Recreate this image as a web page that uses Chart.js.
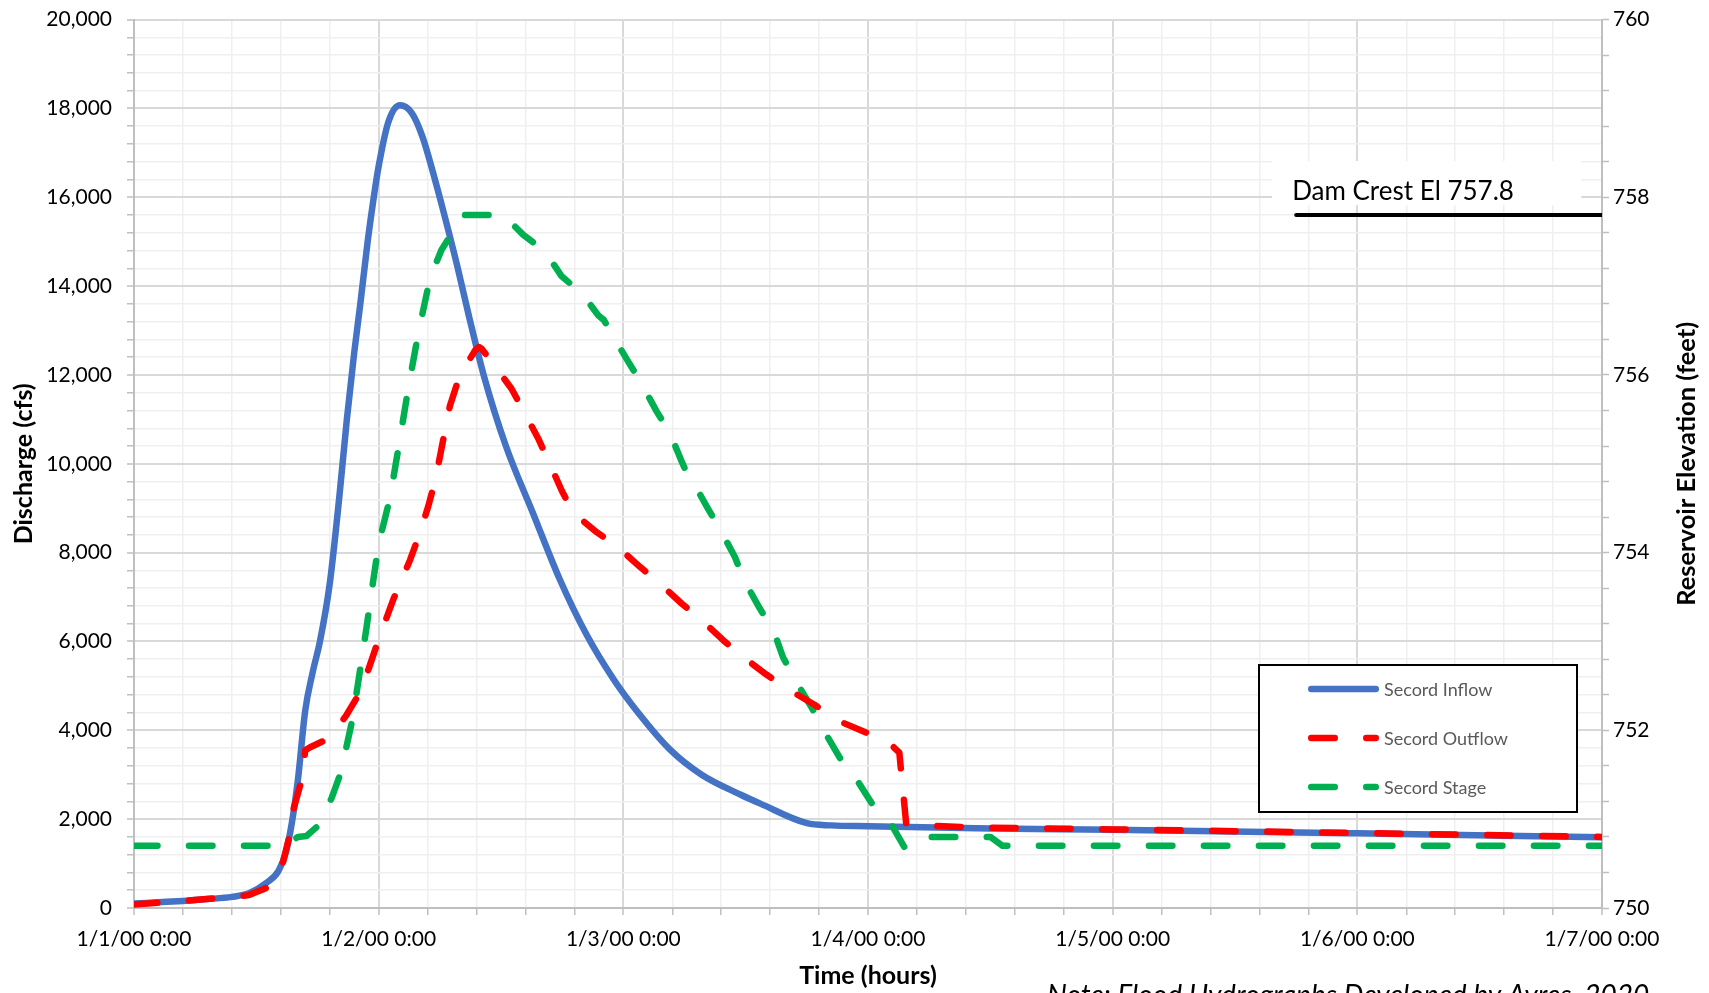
<!DOCTYPE html>
<html lang="en">
<head>
  <meta charset="UTF-8">
  <title>Secord Dam - Flood Routing</title>
  <style>
    html, body { margin: 0; padding: 0; background: #ffffff; overflow: hidden; }
    #chart { display: block; }
  </style>
</head>
<body>
  <canvas id="chart" width="1709" height="993"></canvas>

  <script src="https://cdn.jsdelivr.net/npm/chart.js"></script>
  <script>
    // time in days from 1/1/00 0:00
    const dayLabels = ['1/1/00 0:00', '1/2/00 0:00', '1/3/00 0:00', '1/4/00 0:00', '1/5/00 0:00', '1/6/00 0:00', '1/7/00 0:00'];

    const inflowDays = [0, 0.1, 0.2, 0.3, 0.4, 0.47, 0.54, 0.59, 0.62, 0.645, 0.67, 0.70, 0.73, 0.76, 0.80,
      0.84, 0.87, 0.90, 0.925, 0.955, 0.98, 1.00, 1.04, 1.087, 1.135, 1.18, 1.22, 1.26, 1.32, 1.37,
      1.43, 1.52, 1.63, 1.74, 1.85, 1.96, 2.06, 2.19, 2.32, 2.48, 2.56, 2.75, 2.85, 3.0, 3.5, 4.0, 5.0, 6.0];
    const inflowCfs = [100, 130, 160, 200, 250, 330, 560, 830, 1240, 1910, 2890, 4450, 5300, 6000, 7300,
      9300, 11000, 12500, 13600, 15000, 16000, 16700, 17700, 18070, 17900, 17350, 16600, 15780, 14480, 13300,
      11980, 10400, 8900, 7400, 6150, 5150, 4400, 3570, 3000, 2550, 2350, 1910, 1860, 1840, 1790, 1760, 1680, 1590];

    const outflowDays = [0, 0.2, 0.4, 0.47, 0.54, 0.58, 0.61, 0.635, 0.653, 0.686, 0.70, 0.72, 0.79, 0.83, 0.869,
      0.918, 0.96, 1.0, 1.06, 1.128, 1.169, 1.203, 1.23, 1.25, 1.271, 1.291, 1.332, 1.394, 1.41, 1.421,
      1.468, 1.543, 1.591, 1.652, 1.693, 1.748, 1.795, 1.891, 1.979, 2.068, 2.15, 2.238, 2.32, 2.408, 2.49,
      2.586, 2.681, 2.783, 2.872, 3.0, 3.1, 3.128, 3.156, 3.22, 3.45, 4.0, 5.0, 6.0];
    const outflowCfs = [80, 160, 250, 290, 450, 700, 1050, 1610, 2250, 2890, 3550, 3620, 3800, 4050, 4350,
      4800, 5400, 6050, 6950, 7830, 8450, 9050, 9600, 10150, 10750, 11300, 12000, 12550, 12630, 12590,
      12250, 11690, 11200, 10570, 10080, 9400, 8900, 8460, 8120, 7680, 7300, 6855, 6480, 6030, 5650,
      5250, 4900, 4570, 4230, 3930, 3645, 3500, 1905, 1860, 1810, 1770, 1690, 1600];

    const stageDays = [0, 0.62, 0.67, 0.705, 0.754, 0.808, 0.845, 0.872, 0.894, 0.918, 0.95, 0.978, 1.0, 1.046, 1.084,
      1.121, 1.162, 1.21, 1.257, 1.312, 1.345, 1.51, 1.59, 1.68, 1.748, 1.83, 1.898, 1.92, 1.959, 2.02,
      2.075, 2.136, 2.19, 2.238, 2.252, 2.286, 2.347, 2.402, 2.456, 2.497, 2.558, 2.613, 2.653, 2.708, 2.769,
      2.817, 2.885, 2.915, 2.946, 3.015, 3.089, 3.15, 3.21, 3.5, 3.55, 6.0];
    const stageFt = [750.70, 750.70, 750.80, 750.81, 750.93, 751.24, 751.52, 751.86, 752.14, 752.57, 753.15, 753.69, 754.10, 754.61, 755.23,
      755.85, 756.47, 757.09, 757.41, 757.65, 757.80, 757.80, 757.58, 757.39, 757.11, 756.92, 756.67, 756.62, 756.43, 756.15,
      755.90, 755.59, 755.35, 755.03, 754.94, 754.79, 754.49, 754.23, 753.95, 753.67, 753.37, 753.13, 752.82, 752.54, 752.26,
      752.01, 751.69, 751.59, 751.48, 751.18, 750.97, 750.68, 750.80, 750.80, 750.70, 750.70];

    const crestDays = [4.75, 6.0];
    const crestFt = [757.8, 757.8];
    const crestLabel = 'Dam Crest El 757.8';

    const seriesNames = ['Secord Inflow', 'Secord Outflow', 'Secord Stage'];
    const seriesColors = ['#4472C4', '#FF0000', '#00B050'];
    const noteText = 'Note: Flood Hydrographs Developed by Ayres, 2020';

    const FONT = 'Lato, "Open Sans", sans-serif';
    const DASH = [23.5, 31.5];
    const LW = 6.5;

    const pts = (xs, ys) => xs.map((x, i) => ({ x, y: ys[i] }));
    const near = (v, step) => Math.abs(v / step - Math.round(v / step)) < 1e-6;

    const gridColor = step => c => (c.tick && near(c.tick.value, step)) ? '#d9d9d9' : '#efefef';
    const gridWidth = step => c => (c.tick && near(c.tick.value, step)) ? 2 : 1.5;

    // titles, crest label, legend, note
    const overlay = {
      id: 'overlay',
      beforeDatasetsDraw(chart) {
        const { ctx } = chart;
        const xs = chart.scales.x, y2 = chart.scales.y2;
        const lx = xs.getPixelForValue(crestDays[0]);
        const ly = y2.getPixelForValue(crestFt[0]);
        ctx.save();
        ctx.fillStyle = '#ffffff';
        ctx.fillRect(lx - 24, ly - 54, 309, 44);
        ctx.fillStyle = '#000000';
        ctx.font = '26px ' + FONT;
        ctx.textBaseline = 'alphabetic';
        ctx.textAlign = 'left';
        ctx.fillText(crestLabel, lx - 4, ly - 15.5);
        ctx.restore();
      },
      afterDraw(chart) {
        const { ctx, chartArea } = chart;
        ctx.save();
        ctx.fillStyle = '#000000';
        ctx.font = 'bold 25px ' + FONT;
        ctx.textAlign = 'center';
        ctx.textBaseline = 'middle';
        const midY = (chartArea.top + chartArea.bottom) / 2;

        ctx.save();
        ctx.translate(24, midY);
        ctx.rotate(-Math.PI / 2);
        ctx.fillText('Discharge (cfs)', 0, 0);
        ctx.restore();

        ctx.save();
        ctx.font = 'bold 25.5px ' + FONT;
        ctx.translate(1687, midY);
        ctx.rotate(-Math.PI / 2);
        ctx.fillText('Reservoir Elevation (feet)', 0, 0);
        ctx.restore();

        ctx.fillText('Time (hours)', (chartArea.left + chartArea.right) / 2, 976);

        // note, cut off at the bottom edge
        ctx.font = 'italic 28px ' + FONT;
        ctx.textAlign = 'left';
        ctx.textBaseline = 'alphabetic';
        ctx.fillText(noteText, 1047, 1005);

        // legend
        const bx = 1259, by = 665, bw = 318, bh = 147;
        ctx.fillStyle = '#ffffff';
        ctx.fillRect(bx, by, bw, bh);
        ctx.lineWidth = 2;
        ctx.strokeStyle = '#000000';
        ctx.strokeRect(bx, by, bw, bh);
        const rows = [689, 738, 787];
        ctx.font = '18px ' + FONT;
        ctx.textBaseline = 'middle';
        seriesNames.forEach((name, i) => {
          ctx.save();
          ctx.strokeStyle = seriesColors[i];
          ctx.lineWidth = LW;
          ctx.lineCap = 'round';
          ctx.setLineDash(i === 0 ? [] : DASH);
          ctx.beginPath();
          ctx.moveTo(1308 + LW / 2, rows[i]);
          ctx.lineTo(1379 - LW / 2, rows[i]);
          ctx.stroke();
          ctx.restore();
          ctx.fillStyle = '#595959';
          ctx.fillText(name, 1384, rows[i] + 1);
        });
        ctx.restore();
      }
    };

    const tickFont = { family: FONT, size: 21 };

    new Chart(document.getElementById('chart'), {
      type: 'line',
      data: {
        datasets: [
          {
            label: 'Dam Crest',
            data: pts(crestDays, crestFt),
            yAxisID: 'y2',
            borderColor: '#000000',
            borderWidth: 4,
            borderCapStyle: 'round',
            pointRadius: 0,
            order: 0
          },
          {
            label: seriesNames[1],
            data: pts(outflowDays, outflowCfs),
            yAxisID: 'y',
            borderColor: seriesColors[1],
            borderWidth: LW,
            borderDash: DASH,
            borderCapStyle: 'round',
            borderJoinStyle: 'round',
            pointRadius: 0,
            tension: 0,
            order: 1
          },
          {
            label: seriesNames[2],
            data: pts(stageDays, stageFt),
            yAxisID: 'y2',
            borderColor: seriesColors[2],
            borderWidth: LW,
            borderDash: DASH,
            borderCapStyle: 'round',
            borderJoinStyle: 'round',
            pointRadius: 0,
            tension: 0,
            order: 2
          },
          {
            label: seriesNames[0],
            data: pts(inflowDays, inflowCfs),
            yAxisID: 'y',
            borderColor: seriesColors[0],
            borderWidth: LW,
            borderCapStyle: 'round',
            borderJoinStyle: 'round',
            pointRadius: 0,
            cubicInterpolationMode: 'monotone',
            order: 3
          }
        ]
      },
      options: {
        responsive: false,
        animation: false,
        events: [],
        layout: { padding: { top: 19.6, left: 0, right: 0, bottom: 0 } },
        plugins: { legend: { display: false }, tooltip: { enabled: false } },
        scales: {
          x: {
            type: 'linear',
            min: 0,
            max: 6,
            afterFit: s => { s.height = 85; },
            border: { color: '#bfbfbf', width: 2 },
            grid: { color: gridColor(1), lineWidth: gridWidth(1), tickColor: '#bfbfbf', tickLength: 7, tickWidth: 1.5 },
            ticks: {
              stepSize: 0.2,
              autoSkip: false,
              maxRotation: 0,
              padding: 12,
              color: '#000000',
              font: tickFont,
              callback: v => near(v, 1) ? dayLabels[Math.round(v)] : ''
            }
          },
          y: {
            position: 'left',
            min: 0,
            max: 20000,
            afterFit: s => { s.width = 134; s.paddingTop = 0; s.paddingBottom = 0; },
            border: { color: '#bfbfbf', width: 2 },
            grid: { color: gridColor(2000), lineWidth: gridWidth(2000), tickColor: '#bfbfbf', tickLength: 7, tickWidth: 1.5 },
            ticks: {
              stepSize: 400,
              autoSkip: false,
              padding: 15,
              color: '#000000',
              font: tickFont,
              callback: v => near(v, 2000) ? Math.round(v).toLocaleString('en-US') : ''
            }
          },
          y2: {
            position: 'right',
            min: 750,
            max: 760,
            afterFit: s => { s.width = 107; s.paddingTop = 0; s.paddingBottom = 0; },
            border: { color: '#bfbfbf', width: 2 },
            grid: { drawOnChartArea: false, tickColor: '#bfbfbf', tickLength: 7, tickWidth: 1.5 },
            ticks: {
              stepSize: 0.4,
              autoSkip: false,
              padding: 4,
              color: '#000000',
              font: tickFont,
              callback: v => near(v, 2) ? String(Math.round(v)) : ''
            }
          }
        }
      },
      plugins: [overlay]
    });
  </script>
</body>
</html>
